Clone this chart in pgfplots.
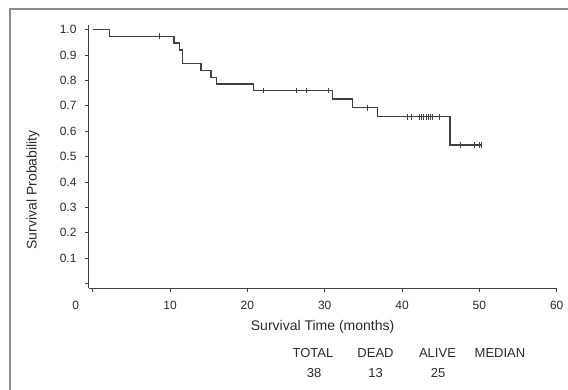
\documentclass[border=0pt]{standalone}
\usepackage{pgfplots}
\pgfplotsset{compat=1.18}
\usepackage{fontspec}
\setmainfont{Liberation Sans}
\definecolor{curve}{HTML}{404040}
\definecolor{txt}{HTML}{2A2A2A}
\begin{document}
\begin{tikzpicture}
\useasboundingbox (0,0) rectangle (568pt,-390pt);
\draw[color=gray!90, line width=2pt] (10pt,-390pt) -- (10pt,-9pt) -- (568pt,-9pt);
\begin{axis}[
  at={(88.5pt,-288pt)}, anchor=south west,
  scale only axis, width=468.2pt, height=263pt,
  xmin=-0.55, xmax=60, ymin=-0.017, ymax=1.018,
  axis lines=left, axis line style={-, color=curve, line width=0.9pt},
  tick align=outside, major tick length=3.5pt,
  tick style={color=curve, line width=0.8pt},
  xtick={10,20,30,40,50,60},
  extra x ticks={0},
  extra x tick style={xticklabel style={xshift=-17pt}},
  ytick={0,0.1,0.2,0.3,0.4,0.5,0.6,0.7,0.8,0.9,1.0},
  yticklabels={,0.1,0.2,0.3,0.4,0.5,0.6,0.7,0.8,0.9,1.0},
  /pgf/number format/assume math mode=true,
  ticklabel style={font=\fontsize{12}{14}\selectfont, text=txt},
  yticklabel style={xshift=-5pt},
  xticklabel style={yshift=-6pt},
  xlabel={Survival Time (months)},
  ylabel={Survival Probability},
  xlabel style={at={(axis description cs:0.5,0)}, anchor=center, yshift=-39pt, font=\fontsize{14}{16}\selectfont, text=txt},
  ylabel style={at={(axis description cs:-0.1185,0.373)}, anchor=center, font=\fontsize{14}{16}\selectfont, text=txt},
  clip=false,
]
\addplot[const plot, color=curve, line width=1.2pt, mark=none] coordinates {
(0,1.0) (2.2,0.974) (10.5,0.947) (11.2,0.920) (11.6,0.868) (14.0,0.840)
(15.3,0.812) (16.0,0.786) (20.8,0.760) (31.0,0.727) (33.6,0.692)
(36.8,0.657) (46.2,0.546) (50.3,0.546)
};
\addplot[only marks, mark=|, mark size=2.8pt, color=curve, mark options={line width=1pt}] coordinates {
(8.6,0.974) (22.1,0.760) (26.3,0.760) (27.7,0.760) (30.5,0.760)
(35.5,0.692)
(40.7,0.657) (41.2,0.657) (42.2,0.657) (42.5,0.657) (42.8,0.657)
(43.1,0.657) (43.4,0.657) (43.7,0.657) (44.0,0.657) (44.8,0.657)
(47.5,0.546) (49.4,0.546) (50.0,0.546) (50.3,0.546)
};
\end{axis}
\begin{scope}[every node/.style={font=\fontsize{13}{15}\selectfont, text=txt, anchor=center}]
\node at (313pt,-353pt) {TOTAL};
\node at (375.5pt,-353pt) {DEAD};
\node at (437.5pt,-353pt) {ALIVE};
\node at (500pt,-353pt) {MEDIAN};
\node at (314pt,-373pt) {38};
\node at (375.5pt,-373pt) {13};
\node at (438pt,-373pt) {25};
\end{scope}
\end{tikzpicture}
\end{document}
